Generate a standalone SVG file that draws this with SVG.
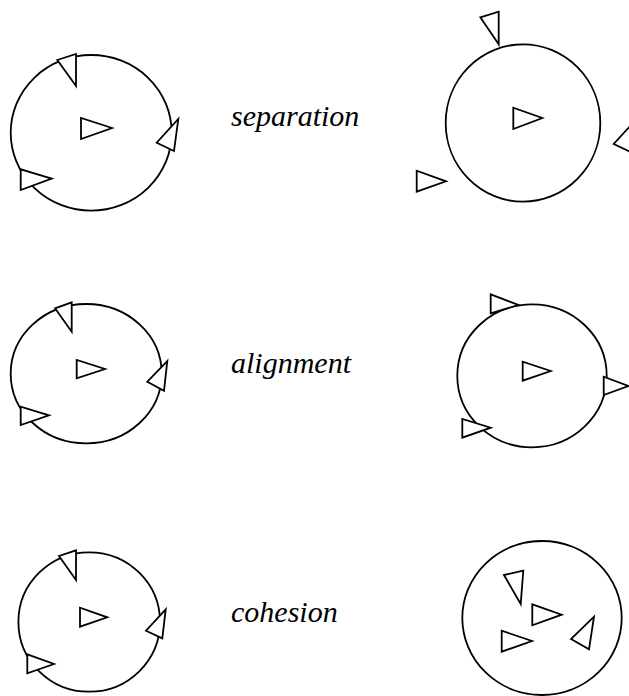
<svg xmlns="http://www.w3.org/2000/svg" width="629" height="696" viewBox="0 0 629 696">
<style>
.ring{fill:none;stroke:#000;stroke-width:1.8}
.boid{fill:#fff;stroke:#000;stroke-width:1.8;stroke-linejoin:miter}
.lbl{font-family:"Liberation Serif","Times New Roman",serif;font-style:italic;font-size:30px;fill:#000}
</style>
<rect width="629" height="696" fill="#fff"/>
<g id="separation-before">
<ellipse class="ring" cx="91.2" cy="132.8" rx="80.5" ry="77.8"/>
<polygon class="boid" points="81,118 81,139 112,128"/>
<polygon class="boid" points="57.3,60 76,54 76,86"/>
<polygon class="boid" points="156.7,142.7 174,151 178.3,119"/>
<polygon class="boid" points="20.7,169.3 20.7,190 51.7,178.7"/>
</g>
<g id="separation-label"><text class="lbl" x="231" y="126">separation</text></g>
<g id="separation-after">
<ellipse class="ring" cx="523" cy="123" rx="77.3" ry="78.7"/>
<polygon class="boid" points="513.3,107.7 513.3,129 542.3,118"/>
<polygon class="boid" points="480.3,17.3 498.7,11.7 498.7,44.3"/>
<polygon class="boid" points="416.7,170.7 416.7,191.7 446,181.3"/>
<polygon class="boid" points="613.7,144 631,152.3 635.3,120.3"/>
</g>
<g id="alignment-before">
<ellipse class="ring" cx="86.2" cy="373.7" rx="75.5" ry="69.7"/>
<polygon class="boid" points="76.7,360 76.7,378.3 105,369"/>
<polygon class="boid" points="55,308.3 71.7,302.3 71.7,331.7"/>
<polygon class="boid" points="147.3,381.7 164,390.7 167.3,361"/>
<polygon class="boid" points="20.7,406.7 20.7,425 49,415.3"/>
</g>
<g id="alignment-label"><text class="lbl" x="231" y="373">alignment</text></g>
<g id="alignment-after">
<ellipse class="ring" cx="532" cy="375.8" rx="74.7" ry="71.5"/>
<polygon class="boid" points="522.7,361.7 522.7,380.7 550.7,371"/>
<polygon class="boid" points="490.7,294.3 490.7,313.3 518.3,305"/>
<polygon class="boid" points="603.7,376.7 603.7,395 628.3,386"/>
<polygon class="boid" points="462.3,419 462.3,437.7 490.7,427.7"/>
</g>
<g id="cohesion-before">
<ellipse class="ring" cx="89.2" cy="622" rx="70.8" ry="69.7"/>
<polygon class="boid" points="80,607.7 80,626.7 107.3,617.3"/>
<polygon class="boid" points="59,556 76,550.3 76,580"/>
<polygon class="boid" points="146,630.7 162.3,638.3 165.7,609.3"/>
<polygon class="boid" points="27.3,654.3 27.3,673.3 54,664"/>
</g>
<g id="cohesion-label"><text class="lbl" x="231" y="621.5">cohesion</text></g>
<g id="cohesion-after">
<ellipse class="ring" cx="542" cy="618" rx="79.7" ry="77"/>
<polygon class="boid" points="504,575 523.3,570.7 520.7,604"/>
<polygon class="boid" points="532.3,604.3 532.3,625.3 561.7,614.7"/>
<polygon class="boid" points="501.7,630.7 501.7,651.7 532,641"/>
<polygon class="boid" points="571,639 589,649.3 594,616.7"/>
</g>
</svg>
